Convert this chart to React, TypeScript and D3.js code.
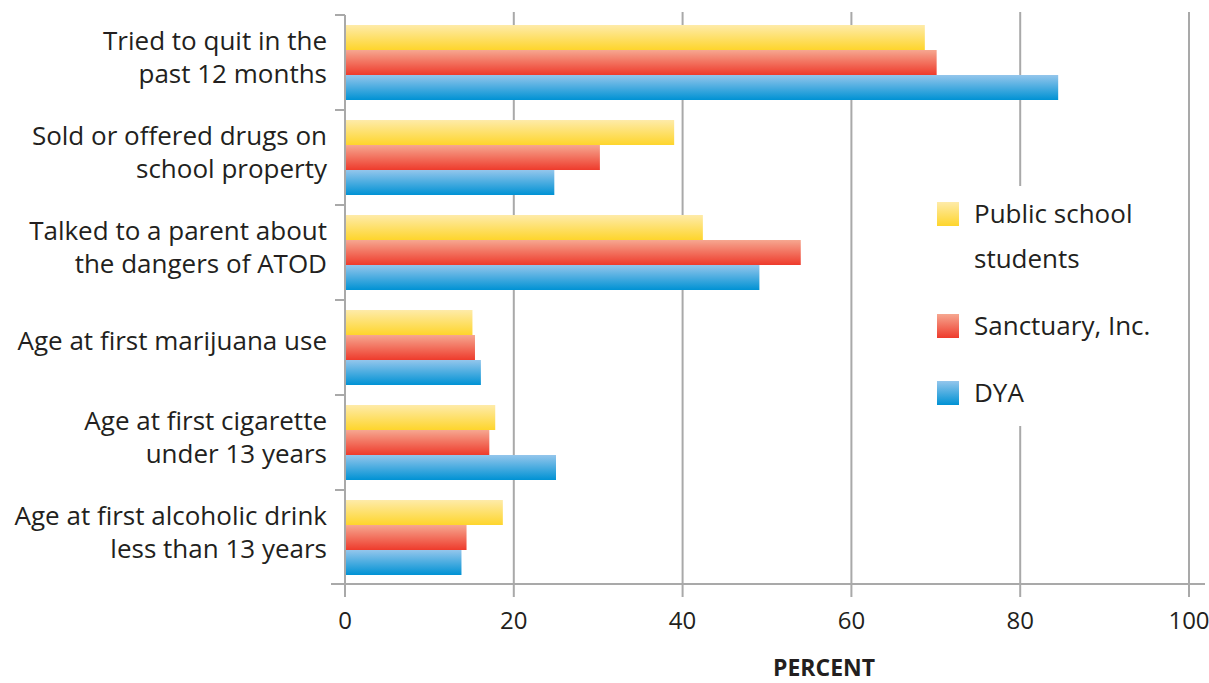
import React from "react";
import * as d3 from "d3";

const categories: string[][] = [
  ["Tried to quit in the", "past 12 months"],
  ["Sold or offered drugs on", "school property"],
  ["Talked to a parent about", "the dangers of ATOD"],
  ["Age at first marijuana use"],
  ["Age at first cigarette", "under 13 years"],
  ["Age at first alcoholic drink", "less than 13 years"],
];
const seriesNames = ["Public school students", "Sanctuary, Inc.", "DYA"];
const publicSchool = [68.7, 39.0, 42.4, 15.1, 17.8, 18.7];
const sanctuary = [70.1, 30.2, 54.0, 15.4, 17.1, 14.4];
const dya = [84.5, 24.8, 49.1, 16.1, 25.0, 13.8];
const xTicks = [0, 20, 40, 60, 80, 100];

const seriesValues = [publicSchool, sanctuary, dya];
const gradients = [
  { id: "gY", top: "#feeba9", bottom: "#fed52c" },
  { id: "gR", top: "#f6a790", bottom: "#ee3b2c" },
  { id: "gB", top: "#94c6ec", bottom: "#0092d4" },
];

const FONT = "'Open Sans', 'Noto Sans', sans-serif";

export default function App() {
  const W = 1209;
  const H = 683;
  const x = d3.scaleLinear().domain([0, 100]).range([345, 1189]);
  const y = d3
    .scaleBand<number>()
    .domain(d3.range(categories.length))
    .range([15, 585])
    .paddingInner(0)
    .paddingOuter(0);
  const bw = y.bandwidth();
  const sub = d3
    .scaleBand<number>()
    .domain(d3.range(seriesNames.length))
    .range([10, bw - 10]);
  const gridColor = "#a9a9a9";
  const axisBottom = 584;

  return (
    <svg
      width={W}
      height={H}
      style={{ position: "absolute", left: 0, top: 0, background: "#fff" }}
    >
      <defs>
        {gradients.map((g) => (
          <linearGradient key={g.id} id={g.id} x1="0" y1="0" x2="0" y2="1">
            <stop offset="0%" stopColor={g.top} />
            <stop offset="100%" stopColor={g.bottom} />
          </linearGradient>
        ))}
      </defs>

      {/* vertical gridlines */}
      {xTicks.slice(1).map((t) => (
        <line
          key={t}
          x1={x(t)}
          x2={x(t)}
          y1={12}
          y2={597}
          stroke={gridColor}
          strokeWidth={2}
        />
      ))}

      {/* legend background */}
      <rect x={925} y={186} width={240} height={240} fill="#fff" />

      {/* bars */}
      {categories.map((_, i) =>
        seriesValues.map((vals, s) => (
          <rect
            key={`${i}-${s}`}
            x={x(0)}
            y={(y(i) as number) + (sub(s) as number)}
            width={x(vals[i]) - x(0)}
            height={sub.bandwidth()}
            fill={`url(#${gradients[s].id})`}
          />
        ))
      )}

      {/* left axis */}
      <line x1={x(0)} x2={x(0)} y1={15} y2={597} stroke={gridColor} strokeWidth={2} />
      {categories.map((_, i) => (
        <line
          key={`t${i}`}
          x1={335}
          x2={x(0)}
          y1={y(i) as number}
          y2={y(i) as number}
          stroke={gridColor}
          strokeWidth={2}
        />
      ))}
      {/* bottom axis */}
      <line x1={331} x2={1205} y1={axisBottom} y2={axisBottom} stroke={gridColor} strokeWidth={2} />

      {/* category labels */}
      {categories.map((lines, i) => {
        const c = (y(i) as number) + bw / 2;
        const baselines = lines.length === 1 ? [c + 2] : [c - 13, c + 20];
        return lines.map((ln, k) => (
          <text
            key={`l${i}-${k}`}
            x={327}
            y={baselines[k]}
            textAnchor="end"
            fontFamily={FONT}
            fontSize={26}
            fill="#231f20"
          >
            {ln}
          </text>
        ));
      })}

      {/* x tick labels */}
      {xTicks.map((t) => (
        <text
          key={`x${t}`}
          x={x(t)}
          y={629}
          textAnchor="middle"
          fontFamily={FONT}
          fontSize={24}
          fill="#231f20"
        >
          {t}
        </text>
      ))}
      <text
        x={824}
        y={676}
        textAnchor="middle"
        fontFamily={FONT}
        fontSize={23}
        fontWeight="bold"
        fill="#231f20"
      >
        PERCENT
      </text>

      {/* legend */}
      {[
        { y: 202, lines: ["Public school", "students"] },
        { y: 314, lines: ["Sanctuary, Inc."] },
        { y: 381, lines: ["DYA"] },
      ].map((item, s) => (
        <g key={`lg${s}`}>
          <rect x={937} y={item.y} width={22} height={24} fill={`url(#${gradients[s].id})`} />
          {item.lines.map((ln, k) => (
            <text
              key={k}
              x={974}
              y={item.y + 21 + k * 45}
              fontFamily={FONT}
              fontSize={26}
              fill="#231f20"
            >
              {ln}
            </text>
          ))}
        </g>
      ))}
    </svg>
  );
}
